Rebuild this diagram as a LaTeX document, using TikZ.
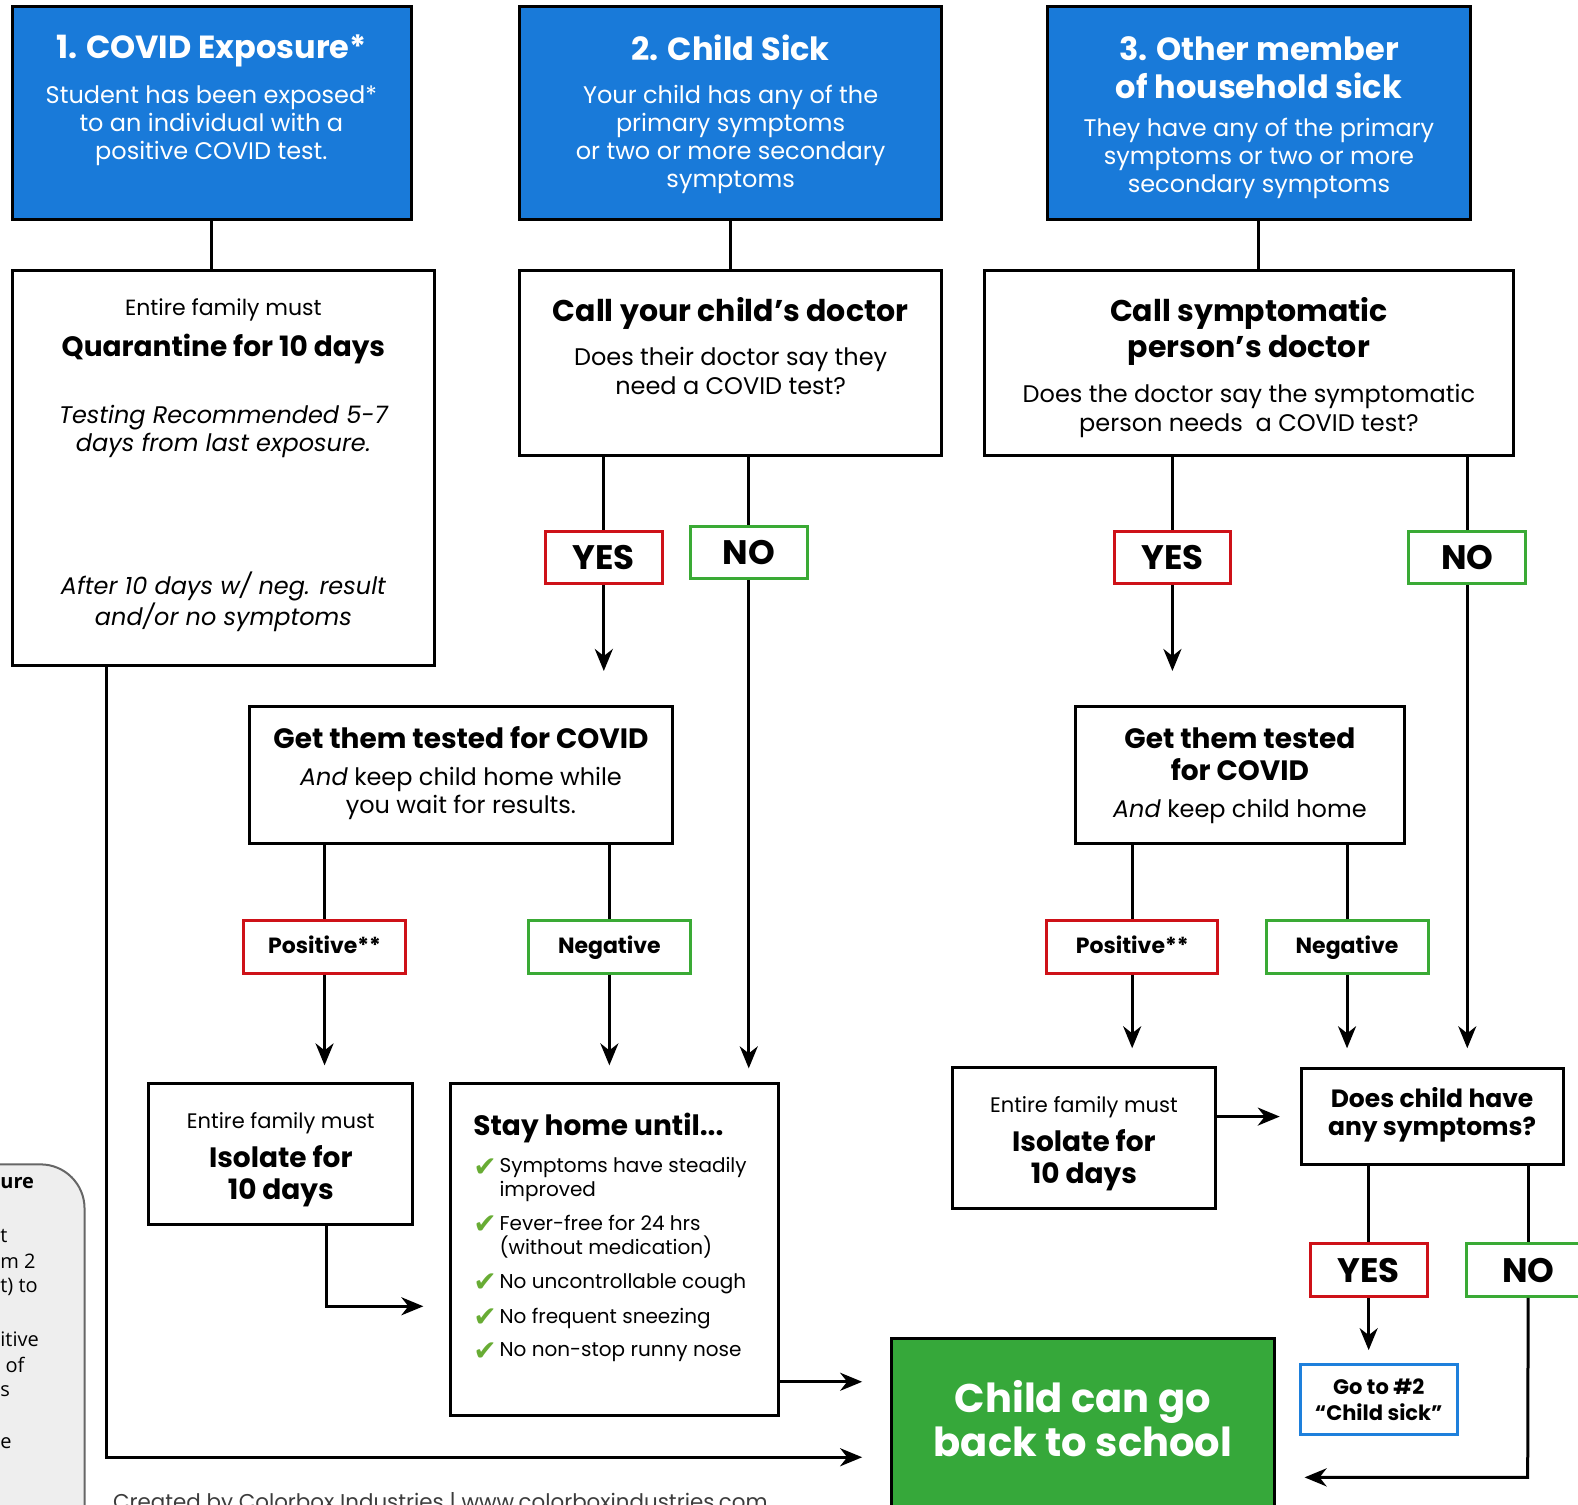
\documentclass[tikz,border=0pt]{standalone}
\usepackage{fontspec}
\setmainfont{Poppins}
\newfontfamily\symfont{DejaVu Sans}
\newfontfamily\notefont{Open Sans}
\usetikzlibrary{fit,arrows.meta}

\definecolor{headblue}{RGB}{25,122,217}
\definecolor{schoolgreen}{RGB}{54,168,58}
\definecolor{yesred}{RGB}{206,17,24}
\definecolor{nogreen}{RGB}{58,170,53}
\definecolor{gotoblue}{RGB}{30,128,220}
\definecolor{tickgreen}{RGB}{104,172,52}
\definecolor{notegray}{RGB}{238,238,238}
\definecolor{footgray}{RGB}{60,60,60}

\newcommand{\tick}{{\symfont\color{tickgreen}\char"2714}}
\newcommand{\fsz}[2]{\fontsize{#1}{#2}\selectfont}

\tikzset{
  box/.style={draw, line width=1.5pt, inner sep=0pt},
  headbox/.style={box, fill=headblue},
  ans/.style={draw, line width=1.5pt, fill=white, inner sep=0pt, minimum width=58.4pt, minimum height=26.2pt,
              font=\bfseries\fsz{17}{20}},
  yesbox/.style={ans, draw=yesred},
  nobox/.style={ans, draw=nogreen},
  resbox/.style={draw, line width=1.5pt, fill=white, inner sep=0pt, minimum width=81pt, minimum height=26.2pt,
                 text height=8pt, text depth=2pt, font=\bfseries\fsz{11}{13}},
  conn/.style={line width=1.5pt},
  arr/.style={conn, ->},
  headtitle/.style={text=white, align=center, inner sep=0pt, font=\bfseries\fsz{16}{19}},
  headtext/.style={text=white, align=center, inner sep=0pt, font=\fsz{12}{14}},
  bighead/.style={align=center, inner sep=0pt, font=\bfseries\fsz{15}{18}},
  plain/.style={align=center, inner sep=0pt, font=\fsz{12}{14.5}},
  small/.style={align=center, inner sep=0pt, font=\fsz{11}{13}},
  strong/.style={align=center, inner sep=0pt, font=\bfseries\fsz{14}{16}},
  slant/.style={align=center, inner sep=0pt, font=\itshape\fsz{12}{14}},
  checkitem/.style={align=left, inner sep=0pt, anchor=west, font=\fsz{10}{12}},
  notetext/.style={anchor=west, inner sep=0pt, font=\notefont\fsz{10}{12}}
}

\begin{document}
\begin{tikzpicture}[x=0.5032pt, y=-0.5032pt, >={Stealth[length=11pt,width=9pt,inset=3.5pt]}]

\useasboundingbox (0,0) rectangle (1568,1495);

% side note, cut off by the page
\draw [draw=gray!80!black, fill=notegray, line width=1pt, rounded corners=22pt]
	(-100,1600) -- (-100,1157) -- (84,1157) -- (84,1600);
\node [notetext, font=\notefont\bfseries\fsz{10}{12}] (n1) at (0,1176) {ure};
\node [notetext] (n2) at (0,1228) {t};
\node [notetext] (n3) at (0,1253) {m 2};
\node [notetext] (n4) at (0,1279) {t) to};
\node [notetext] (n5) at (0,1331) {itive};
\node [notetext] (n6) at (0,1356) {\ of};
\node [notetext] (n7) at (0,1382) {s};
\node [notetext] (n8) at (0,1434) {e};

%%%%%%%%%%%%%%%%%%%%%%%%%%%%%%%%%%%%%%%%%%
% the three starting points

\node [headbox, fit={(12,6) (409,218)}] (b1) {};
\node [headtitle] (b1-t) at (210,51) {1. COVID Exposure*};
\node [headtext] (b1-s) at (210,125) {Student has been exposed*\\to an individual with a\\positive COVID test.};

\node [headbox, fit={(516,6) (936,218)}] (b2) {};
\node [headtitle] (b2-t) at (726,48) {2. Child Sick};
\node [headtext] (b2-s) at (726,139) {Your child has any of the\\primary symptoms\\or two or more secondary\\symptoms};

\node [headbox, fit={(1041,6) (1461,218)}] (b3) {};
\node [headtitle] (b3-t) at (1251,67) {3. Other member\\of household sick};
\node [headtext] (b3-s) at (1251,157) {They have any of the primary\\symptoms or two or more\\secondary symptoms};

%%%%%%%%%%%%%%%%%%%%%%%%%%%%%%%%%%%%%%%%%%
% second row

\node [box, fit={(12,269) (432,661)}] (quar) {};
\node [small] (quar-a) at (222,308) {Entire family must};
\node [strong] (quar-b) at (222,347) {Quarantine for 10 days};
\node [slant] (quar-c) at (222,429) {Testing Recommended 5-7\\days from last exposure.};
\node [slant] (quar-d) at (222,598) {After 10 days w/ neg. result\\and/or no symptoms};

\node [box, fit={(516,269) (936,453)}] (call1) {};
\node [bighead] (call1-t) at (726,311) {Call your child’s doctor};
\node [plain] (call1-s) at (726,369) {Does their doctor say they\\need a COVID test?};

\node [box, fit={(978,269) (1504,453)}] (call3) {};
\node [bighead] (call3-t) at (1241,329) {Call symptomatic\\person’s doctor};
\node [plain] (call3-s) at (1241,408) {Does the doctor say the symptomatic\\person needs \ a COVID test?};

\draw [conn] (b1.south) -- (b1.south |- quar.north);
\draw [conn] (b2.south) -- (call1.north);
\draw [conn] (b3.south) -- (b3.south |- call3.north);

%%%%%%%%%%%%%%%%%%%%%%%%%%%%%%%%%%%%%%%%%%
% answers to the doctor

\node [yesbox] (yes1) at (600,554) {YES};
\node [nobox] (no1) at (744,549) {NO};
\node [yesbox] (yes2) at (1165,554) {YES};
\node [nobox] (no2) at (1458,554) {NO};

\draw [conn] (yes1.north |- call1.south) -- (yes1.north);
\draw [conn] (no1.north |- call1.south) -- (no1.north);
\draw [conn] (yes2.north |- call3.south) -- (yes2.north);
\draw [conn] (no2.north |- call3.south) -- (no2.north);

%%%%%%%%%%%%%%%%%%%%%%%%%%%%%%%%%%%%%%%%%%
% testing

\node [box, fit={(248,702) (668,838)}] (test1) {};
\node [strong] (test1-t) at (458,733) {Get them tested for COVID};
\node [plain, font=\fsz{12}{14}] (test1-s) at (458,788) {\textit{And} keep child home while\\you wait for results.};

\node [box, fit={(1069,702) (1396,838)}] (test2) {};
\node [strong] (test2-t) at (1232,749) {Get them tested\\for COVID};
\node [plain] (test2-s) at (1232,806) {\textit{And} keep child home};

\draw [arr, shorten >=17pt] (yes1.south) -- (yes1.south |- test1.north);
\draw [arr, shorten >=17pt] (yes2.south) -- (yes2.south |- test2.north);

\node [resbox, draw=yesred] (pos1) at (322.5,941) {Positive**};
\node [resbox, draw=nogreen] (neg1) at (605.5,941) {Negative};
\node [resbox, draw=yesred, minimum width=85.5pt] (pos2) at (1125,941) {Positive**};
\node [resbox, draw=nogreen] (neg2) at (1338.5,941) {Negative};

\draw [conn] (pos1.north |- test1.south) -- (pos1.north);
\draw [conn] (neg1.north |- test1.south) -- (neg1.north);
\draw [conn] (pos2.north |- test2.south) -- (pos2.north);
\draw [conn] (neg2.north |- test2.south) -- (neg2.north);

%%%%%%%%%%%%%%%%%%%%%%%%%%%%%%%%%%%%%%%%%%
% outcomes

\node [box, fit={(148,1077) (410,1217)}] (iso1) {};
\node [small, font=\fsz{10.5}{13}] (iso1-a) at (279,1116) {Entire family must};
\node [strong] (iso1-b) at (279,1169) {Isolate for\\10 days};

\node [box, fit={(448,1077) (774,1407)}] (stay) {};
\node [anchor=west, inner sep=0pt, font=\bfseries\fsz{14}{16}] (stay-t) at (470,1121) {Stay home until...};
\foreach \cy/\ty/\txt in {1160/1172/{Symptoms have steadily\\improved},
                          1217/1229/{Fever-free for 24 hrs\\(without medication)},
                          1275/1276/{No uncontrollable cough},
                          1309/1310/{No frequent sneezing},
                          1343/1344/{No non-stop runny nose}}
{
  \node [inner sep=0pt, font=\fsz{14}{14}] (tick\cy) at (482,\cy) {\tick};
  \node [checkitem] (item\cy) at (496,\ty) {\txt};
}

\node [box, fit={(946,1061) (1208,1201)}] (iso2) {};
\node [small, font=\fsz{10.5}{13}] (iso2-a) at (1077,1100) {Entire family must};
\node [strong] (iso2-b) at (1077,1153) {Isolate for\\10 days};

\node [box, fit={(1293,1062) (1554,1157)}] (symq) {};
\node [align=center, inner sep=0pt, font=\bfseries\fsz{12.5}{14}] (symq-t) at (1423,1108) {Does child have\\any symptoms?};

\draw [arr, shorten >=8.5pt] (pos1.south) -- (pos1.south |- iso1.north);
\draw [arr, shorten >=8.5pt] (neg1.south) -- (neg1.south |- stay.north);
\draw [arr, shorten >=7pt] (no1.south) -- (no1.south |- stay.north);
\draw [arr, shorten >=9pt] (pos2.south) -- (pos2.south |- iso2.north);
\draw [arr, shorten >=9.5pt] (neg2.south) -- (neg2.south |- symq.north);
\draw [arr, shorten >=9.5pt] (no2.south) -- (no2.south |- symq.north);
\draw [arr, shorten >=10pt] (iso2.east |- symq.west) -- (symq.west);

\node [yesbox] (yes3) at (1360,1262) {YES};
\node [nobox, minimum width=62pt] (no3) at (1518.5,1262) {NO};
\draw [conn] (yes3.north |- symq.south) -- (yes3.north);
\draw [conn] (no3.north |- symq.south) -- (no3.north);

\node [draw=gotoblue, line width=1.5pt, inner sep=0pt, align=center, font=\bfseries\fsz{10.5}{13},
       minimum width=78.5pt, minimum height=34.7pt] (goto) at (1370,1390.5) {Go to \#2\\“Child sick”};
\draw [arr, shorten >=6.5pt] (yes3.south) -- (yes3.south |- goto.north);

%%%%%%%%%%%%%%%%%%%%%%%%%%%%%%%%%%%%%%%%%%
% back to school

\node [box, fill=schoolgreen, fit={(886,1330) (1266,1540)}] (school) {};
\node [align=center, inner sep=0pt, text=white, font=\bfseries\fsz{20}{22}] (school-t) at (1076,1410) {Child can go\\back to school};

\coordinate (nobend) at (1518,1468);
\draw [arr, shorten >=14.5pt] (no3.south) -- (nobend) -- (school.east |- nobend);
\draw [arr, shorten >=14pt] (stay.east |- 0,1373) -- (school.west |- 0,1373);
\draw [arr, shorten >=13pt] ([xshift=23pt]iso1.south) |- (stay.west |- 0,1298);
\draw [arr, shorten >=14pt] (quar.south -| 106,0) |- (school.west |- 0,1448);

\node [anchor=base west, inner sep=0pt, text=footgray, font=\fsz{10.7}{13}] (credit) at (112,1500)
	{Created by Colorbox Industries | www.colorboxindustries.com};

\end{tikzpicture}
\end{document}
